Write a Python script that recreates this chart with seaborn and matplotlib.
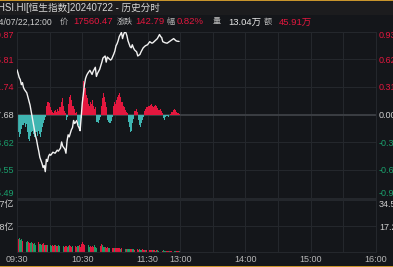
import matplotlib
matplotlib.use("Agg")
import matplotlib.pyplot as plt
import seaborn as sns
import pandas as pd
from matplotlib.patches import Rectangle

# ---------------- data ----------------
prev_close = 17417.68
price_minutes = [0, 1, 2, 3, 4, 5, 6, 7, 9, 10, 12, 13, 14, 15, 16, 17, 18, 19, 20, 21, 22, 23, 24, 25, 26,
                 27, 28, 29, 30, 31, 33, 35, 37, 38, 40, 41, 42, 44, 45, 46, 47, 48, 50, 51, 52, 53, 55, 56,
                 57, 58, 59, 60, 61, 62, 63, 64, 65, 67, 68, 69, 70, 72, 73, 74, 76, 78, 79, 81, 82, 83, 84,
                 86, 87, 89, 90, 91, 92, 93, 94, 95, 96, 97, 98, 99, 100, 101, 102, 103, 104, 105, 106, 107,
                 108, 110, 111, 113, 114, 116, 118, 120, 122, 124, 125, 127, 129, 131, 132, 133, 134, 136,
                 138, 140, 142, 144, 146, 147, 149]
price_values = [17505, 17498, 17490, 17486, 17476, 17480, 17470, 17466, 17460, 17452, 17436, 17424, 17412,
                17400, 17388, 17376, 17368, 17356, 17346, 17334, 17328, 17322, 17314, 17318, 17306,
                17330, 17326, 17336, 17340, 17338, 17344, 17342, 17348, 17346, 17352, 17364, 17356, 17350,
                17342, 17366, 17378, 17374, 17388, 17392, 17406, 17400, 17406, 17396, 17392, 17386, 17412,
                17440, 17458, 17476, 17488, 17494, 17498, 17504, 17500, 17496, 17502, 17510, 17492, 17498,
                17506, 17520, 17528, 17532, 17520, 17530, 17528, 17524, 17526, 17536, 17542, 17552, 17556,
                17562, 17570, 17574, 17578, 17566, 17574, 17579, 17578, 17572, 17562, 17556, 17550, 17548,
                17554, 17548, 17544, 17540, 17532, 17535, 17540, 17548, 17552, 17554, 17560, 17557, 17558,
                17562, 17566, 17574, 17570, 17568, 17560, 17558, 17557, 17560, 17563, 17566, 17562, 17561,
                17560.47]

diff_bars = [-0.17, -0.20, -0.25, -0.22, -0.16, -0.12, -0.10, -0.14, -0.11, -0.20,
             -0.27, -0.30, -0.24, -0.20, -0.18, -0.22, -0.25, -0.20, -0.24, -0.18,
             -0.22, -0.25, -0.20, -0.14, -0.10, -0.06, -0.03, 0.10, 0.14, 0.13,
             0.08, 0.05, 0.03, 0.02, 0.04, 0.05, 0.03, 0.06, 0.04, 0.08,
             0.14, 0.18, 0.10, 0.04, 0.02, -0.06, -0.03, 0.12, 0.20, 0.22,
             0.16, 0.10, 0.06, 0.02, 0.03, -0.06, -0.12, -0.15, -0.10, -0.04,
             0.20, 0.37, 0.30, 0.22, 0.18, 0.12, 0.10, 0.14, 0.12, 0.16,
             0.10, 0.06, 0.08, -0.08, -0.10, -0.06, -0.03, 0.10, 0.18, 0.24,
             0.20, 0.14, 0.08, -0.06, -0.08, -0.10, -0.07, -0.03, 0.10, 0.14,
             0.12, 0.16, 0.20, 0.22, 0.24, 0.20, 0.14, 0.10, 0.08, 0.05,
             0.03, 0.02, -0.08, -0.14, -0.20, -0.18, -0.10, -0.05, 0.04, 0.06,
             0.03, -0.06, -0.12, -0.14, -0.10, -0.06, -0.03, 0.04, 0.06, 0.08,
             0.10, 0.09, 0.11, 0.12, 0.10, 0.08, 0.09, 0.11, 0.10, 0.07,
             0.05, 0.06, 0.04, 0.02, -0.04, -0.06, -0.03, -0.02, -0.02, -0.03,
             -0.01, 0.01, 0.03, 0.05, 0.06, 0.05, 0.03, 0.02, 0.02, 0.01]

volume = [34.5, 8.6, 9.2, 8.0, 8.8, 7.4, 7.9, 8.3, 6.6, 7.1,
          6.8, 6.2, 5.8, 6.6, 6.0, 5.5, 6.3, 5.0, 5.9, 6.4,
          5.2, 5.6, 4.8, 5.3, 5.9, 4.6, 5.0, 4.4, 4.9, 5.3,
          4.5, 4.2, 4.6, 4.0, 4.4, 4.8, 4.1, 3.9, 4.5, 4.2,
          3.8, 4.4, 4.0, 3.6, 4.2, 3.8, 3.5, 4.0, 4.5, 3.7,
          3.4, 3.9, 3.6, 4.2, 3.3, 3.8, 4.0, 4.6, 3.5, 5.2,
          6.9, 5.6, 4.8, 4.2, 3.9, 4.5, 3.6, 4.1, 3.5, 3.8,
          3.3, 4.6, 3.4, 3.0, 3.6, 3.2, 4.1, 5.3, 4.4, 3.5,
          3.1, 3.4, 2.9, 3.2, 2.7, 3.0, 2.6, 2.9, 2.5, 2.9,
          2.7, 2.4, 2.8, 3.0, 2.6, 2.3, 2.7, 2.2, 2.5, 2.2,
          2.0, 2.3, 1.9, 2.1, 1.8, 2.2, 1.7, 2.0, 1.6, 1.9,
          1.7, 1.5, 1.8, 1.6, 1.4, 1.7, 1.5, 1.3, 1.6, 1.4,
          1.2, 1.5, 1.3, 1.1, 1.4, 1.2, 1.3, 1.0, 1.2, 1.1,
          0.9, 1.1, 1.0, 0.9, 1.1, 0.8, 1.0, 0.9, 0.8, 1.0,
          0.7, 0.9, 0.8, 0.7, 0.9, 0.6, 0.8, 0.7, 0.6, 0.7]
volume_dir = ("rrgggrgrggrrggrgggrr"
              "gggrrgrrgrggrrrgrrgg"
              "rrgrrrggrrrgrrrggrrr"
              "rrrgrggrrrrgggrrrrgg"
              "grrrggrrrgrrrrrgrrgg"
              "rgggrrggrgrrgggrrrgr"
              "rrrrgrrgrggrrrgggrrr"
              "grrgggrrrg")

price_ticks = [17579.87, 17525.81, 17471.74, 17417.68, 17363.62, 17309.55, 17255.49]
price_labels = ["17579.87", "17525.81", "17471.74", "17417.68", "17363.62", "17309.55", "17255.49"]
pct_ticks = [0.93, 0.62, 0.31, 0.00, -0.31, -0.62, -0.93]
pct_labels = ["0.93%", "0.62%", "0.31%", "0.00%", "-0.31%", "-0.62%", "-0.93%"]
vol_ticks = [17.28, 34.57]
vol_labels = ["17.28亿", "34.57亿"]
time_ticks = [0, 30, 60, 90, 120, 150, 180, 210, 240, 270, 300, 330]
time_labels = ["09:30", "", "10:30", "", "11:30", "13:00", "", "14:00", "", "15:00", "", "16:00"]

title_text = "HSI.HI[恒生指数]20240722 - 历史分时"

# ---------------- style ----------------
BG = "#14161a"
GRID = "#24272c"
RED = "#e3173e"
TEAL = "#3fb5b1"
GREEN = "#1a9f6c"
VGREEN = "#1d9a64"
TXT = "#cfcfcf"
LBL = "#bdbdbd"

sns.set_theme(style="dark")
plt.rcParams["font.family"] = ["Liberation Sans", "Noto Sans CJK SC", "DejaVu Sans"]
plt.rcParams["font.size"] = 6.3

W, H = 393, 267
fig = plt.figure(figsize=(W / 100, H / 100), dpi=100, facecolor=BG)

def fx(px):
    return px / W

def fy(py):
    return 1 - py / H

# title bar / border
fig.patches.append(Rectangle((0, fy(15)), 1, fy(1) - fy(15), transform=fig.transFigure,
                             facecolor="#1c1c1e", edgecolor="none", zorder=0))
fig.patches.append(Rectangle((0, fy(1.2)), 1, fy(0) - fy(1.2), transform=fig.transFigure,
                             facecolor="#c9952c", edgecolor="none", zorder=0))
fig.patches.append(Rectangle((0, 0), 1, fy(265.6), transform=fig.transFigure,
                             facecolor="#c9952c", edgecolor="none", zorder=0))

fig.text(fx(-2), fy(8), title_text, color="#d8d8d8", fontsize=6.9, ha="left", va="center")

# (text, x px, ha, color, fontsize)
info = [("2024/07/22,12:00", 52, "right", TXT, 6.2),
        ("价", 60, "left", LBL, 5.8), ("17560.47", 73, "left", RED, 6.8),
        ("涨跌", 117, "left", LBL, 5.8), ("142.79", 135, "left", RED, 6.8),
        ("幅", 166, "left", LBL, 5.8), ("0.82%", 177, "left", RED, 6.8),
        ("量", 213, "left", LBL, 5.8), ("13.04万", 228, "left", "#e6e6e6", 6.8),
        ("额", 264, "left", LBL, 5.8), ("45.91万", 279, "left", RED, 6.8)]
for txt, x, ha, c, fs in info:
    fig.text(fx(x), fy(22), txt, color=c, fontsize=fs, ha=ha, va="center")

# ---------------- main panel ----------------
L, R = 17, 376
top_main, bot_main = 31.5, 197.5
ax_pct = fig.add_axes([fx(L), fy(bot_main), fx(R) - fx(L), fy(top_main) - fy(bot_main)])
ax_pct.set_facecolor(BG)
ax_price = ax_pct.twinx()
ax_price.set_zorder(ax_pct.get_zorder() + 1)
ax_price.patch.set_visible(False)

bar_x = list(range(len(diff_bars)))
bar_c = [RED if v >= 0 else TEAL for v in diff_bars]
ax_pct.bar(bar_x, diff_bars, width=1.0, align="edge", color=bar_c, linewidth=0, zorder=2)
ax_pct.axhline(0, color="#3b3e43", lw=1.4, zorder=1)

df = pd.DataFrame({"minute": price_minutes, "price": price_values})
sns.lineplot(data=df, x="minute", y="price", ax=ax_price, color="#f2f2f2", lw=1.0, zorder=5)

for a in (ax_pct, ax_price):
    a.set_xlim(0, 330)
    a.set_xlabel("")
    a.set_ylabel("")
    for s in a.spines.values():
        s.set_color(GRID)
        s.set_linewidth(0.8)
ax_pct.set_ylim(-0.93, 0.93)
ax_price.set_ylim(price_ticks[-1], price_ticks[0])

ax_pct.set_xticks(time_ticks)
ax_pct.set_xticklabels([])
ax_pct.tick_params(axis="x", length=0)
ax_price.tick_params(axis="x", length=0, labelbottom=False)
ax_pct.grid(True, color=GRID, lw=0.8)
ax_price.grid(False)

ax_pct.yaxis.set_ticks_position("left")
ax_pct.set_yticks(pct_ticks)
ax_pct.set_yticklabels(price_labels)
ax_pct.tick_params(axis="y", length=0, pad=2.2, labelsize=6.5)
ax_price.set_yticks(price_ticks)
ax_price.set_yticklabels(pct_labels)
ax_price.tick_params(axis="y", length=0, pad=2.2, labelsize=6.5)

label_colors = [RED, RED, RED, TXT, GREEN, GREEN, GREEN]
for lab_list in (ax_pct.get_yticklabels(), ax_price.get_yticklabels()):
    for i, lab in enumerate(lab_list):
        lab.set_color(label_colors[i])
        if i == 0:
            lab.set_va("top")
        elif i == len(lab_list) - 1:
            lab.set_va("bottom")

# ---------------- volume panel ----------------
top_vol, bot_vol = 199, 252
ax_vol = fig.add_axes([fx(L), fy(bot_vol), fx(R) - fx(L), fy(top_vol) - fy(bot_vol)])
ax_vol.set_facecolor(BG)
vx = list(range(len(volume)))
vc = [RED if d == "r" else VGREEN for d in volume_dir]
ax_vol.bar(vx, volume, width=0.8, align="edge", color=vc, linewidth=0, zorder=2)
ax_vol.set_xlim(0, 330)
ax_vol.set_ylim(0, 35.5)
ax_vol.set_xticks(time_ticks)
ax_vol.set_xticklabels(time_labels)
ax_vol.set_yticks(vol_ticks)
ax_vol.set_yticklabels(vol_labels)
ax_vol.tick_params(axis="x", length=0, pad=2.0, labelsize=6.5, colors="#b8b8b8")
ax_vol.tick_params(axis="y", length=0, pad=2.2, labelsize=6.5, colors=TXT,
                   labelleft=True, labelright=True)
for lab in ax_vol.get_yticklabels():
    if lab.get_text().startswith("34"):
        lab.set_va("top")
ax_vol.grid(True, color=GRID, lw=0.8)
for s in ax_vol.spines.values():
    s.set_color(GRID)
    s.set_linewidth(0.8)

fig.savefig("out.png", dpi=100, facecolor=BG)
